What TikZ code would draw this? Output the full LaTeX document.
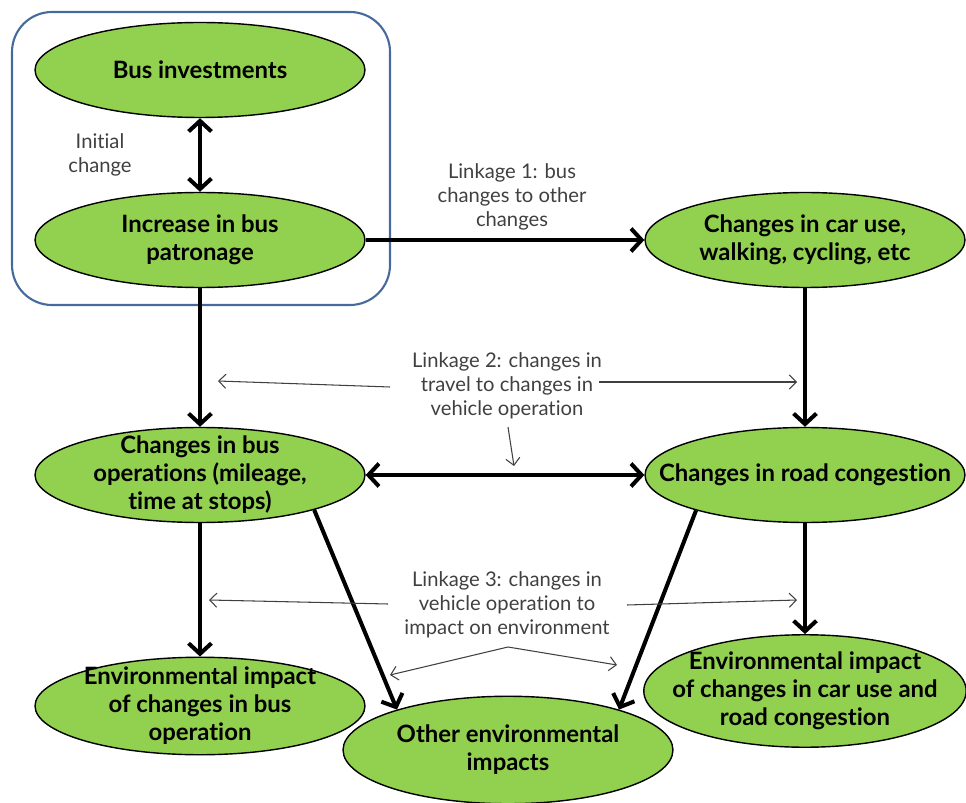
\documentclass[tikz,border=0pt]{standalone}
\usepackage{fontspec}
\setmainfont{Lato}[Ligatures=NoCommon]
\usepackage{tikz}
\usetikzlibrary{shapes.geometric, arrows.meta, positioning}
\definecolor{busgreen}{RGB}{146,208,80}
\definecolor{frameblue}{RGB}{70,106,156}
\definecolor{notegray}{RGB}{64,64,64}
\tikzset{
  bubble/.style={ellipse, draw=black, line width=0.8pt, fill=busgreen,
    minimum width=6.6cm, minimum height=1.9cm, inner xsep=-3cm, inner ysep=-1cm,
    align=center, font=\fontsize{13.6}{15.9}\selectfont\bfseries},
  note/.style={align=center, text=notegray, font=\fontsize{11.5}{13.6}\selectfont},
  arrow/.style={-{Straight Barb[length=6pt, width=13pt]}, line width=2.3pt},
  dblarrow/.style={arrow, {Straight Barb[length=6pt, width=13pt]}-{Straight Barb[length=6pt, width=13pt]}},
  thinarrow/.style={-{Straight Barb[length=4pt, width=8pt]}, line width=0.6pt, color=notegray},
}

\begin{document}
\begin{tikzpicture}[x=0.02cm, y=-0.02cm]
  \useasboundingbox (0,0) rectangle (966,803);
  \draw[frameblue, line width=1.2pt, rounded corners=0.8cm] (12,12) rectangle (390,305);

  \node[bubble] (inv) at (200,70) {Bus investments};
  \node[bubble] (patr) at (200,240) {Increase in bus\\patronage};
  \node[bubble, minimum width=6.4cm] (caruse) at (805,240) {Changes in car use,\\walking, cycling, etc};
  \node[bubble] (busops) at (200,475) {Changes in bus\\operations (mileage,\\time at stops)};
  \node[bubble, minimum width=6.4cm] (congest) at (805,475) {Changes in road congestion};
  \node[bubble, minimum height=1.95cm] (envbus) at (200,706) {Environmental impact\\of changes in bus\\operation};
  \node[bubble, minimum height=2.15cm] (other) at (508,750) {Other environmental\\impacts};
  \node[bubble, minimum width=6.45cm, minimum height=2.25cm] (envcar) at (805,691)
    {Environmental impact\\of changes in car use and\\road congestion};

  \node[note] (initial) at (100,155) {Initial\\change};
  \node[note] (link1) at (512,197) {Linkage 1: bus\\changes to other\\changes};
  \node[note] (link2) at (507,386) {Linkage 2: changes in\\travel to changes in\\vehicle operation};
  \node[note] (link3) at (507,605) {Linkage 3: changes in\\vehicle operation to\\impact on environment};

  \draw[dblarrow] (inv) -- (patr);
  \draw[arrow] (patr) -- (caruse);
  \draw[arrow] (patr) -- (busops);
  \draw[arrow] (caruse) -- (congest);
  \draw[dblarrow] (busops) -- (congest);
  \draw[arrow] (busops) -- (envbus);
  \draw[arrow] (busops.-17) -- (other.160);
  \draw[arrow] (congest.-162) -- (other.20);
  \draw[arrow] (congest) -- (envcar);

  \coordinate (l2w) at (390,387);
  \coordinate (l2wend) at (218,381);
  \coordinate (l2e) at (599,382);
  \coordinate (l2eend) at (797,382);
  \coordinate (l2s) at (508,427);
  \coordinate (l2send) at (514,466);
  \coordinate (l3w) at (388,604);
  \coordinate (l3wend) at (209,600);
  \coordinate (l3e) at (627,605);
  \coordinate (l3eend) at (797,600);
  \coordinate (l3s) at (508,647);
  \coordinate (l3send1) at (390,675);
  \coordinate (l3send2) at (617,665);
  \draw[thinarrow] (l2w) -- (l2wend);
  \draw[thinarrow] (l2e) -- (l2eend);
  \draw[thinarrow] (l2s) -- (l2send);
  \draw[thinarrow] (l3w) -- (l3wend);
  \draw[thinarrow] (l3e) -- (l3eend);
  \draw[thinarrow] (l3s) -- (l3send1);
  \draw[thinarrow] (l3s) -- (l3send2);
\end{tikzpicture}
\end{document}
